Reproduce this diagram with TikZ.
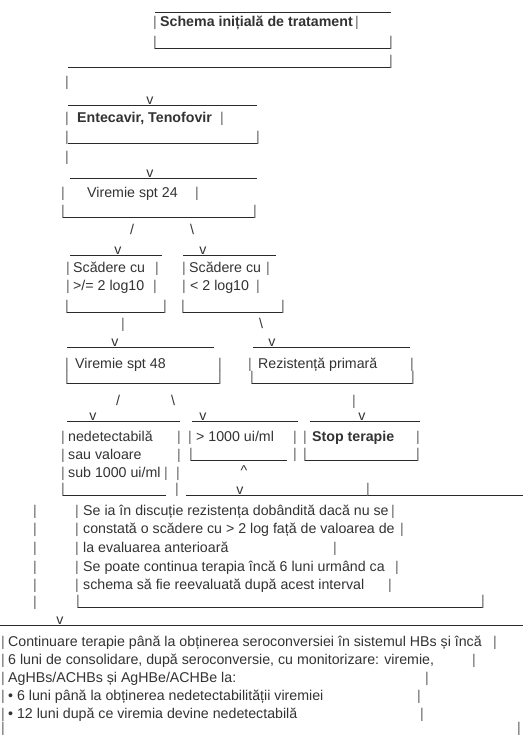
\documentclass[tikz,border=0pt]{standalone}
\usepackage{fontspec}
\setmainfont{Liberation Sans}
\definecolor{ink}{HTML}{333333}
\definecolor{pale}{HTML}{666666}
\definecolor{rulec}{HTML}{2A2A2A}
\tikzset{
  txt/.style={anchor=base west, inner sep=0pt, text=ink, font=\fontsize{14.2}{17}\selectfont},
  btxt/.style={txt, font=\fontsize{14.2}{17}\selectfont\bfseries},
  bar/.style={anchor=base, inner sep=0pt, text=pale, font=\fontsize{14.2}{17}\selectfont},
  tip/.style={bar, text=ink},
  hline/.style={draw=rulec, line width=0.9pt}
}
\begin{document}
\begin{tikzpicture}[x=1pt,y=-1pt]
\useasboundingbox[fill=white] (0,0) rectangle (523,736);
% Schema initiala
\draw[hline] (155,12) -- (391,12);
\node[bar] (sL) at (155,27) {|};
\node[btxt] (schema) at (160,27) {Schema inițială de tratament};
\node[bar] (sR) at (357,27) {|};
\node[bar] (sBL) at (155,46) {|};
\draw[hline] (155,48) -- (391,48);
\node[bar] (sBR) at (391,46) {|};
\draw[hline] (68,67) -- (391,67);
\node[bar] (sJ) at (391,65) {|};
\node[bar] (d1) at (67,86) {|};
% Entecavir
\draw[hline] (68,105) -- (257,105);
\node[tip] (v1) at (150,104) {v};
\node[bar] (eL) at (67,122) {|};
\node[btxt] (entec) at (77,122) {Entecavir, Tenofovir};
\node[bar] (eR) at (222,122) {|};
\node[bar] (eBL) at (67,141) {|};
\draw[hline] (68,143) -- (258,143);
\node[bar] (eBR) at (258,141) {|};
\node[bar] (d2) at (67,161) {|};
% Viremie 24
\draw[hline] (70,178) -- (257,178);
\node[tip] (v2) at (150,177) {v};
\node[bar] (wL) at (63,197) {|};
\node[txt] (vir24) at (87,197) {Viremie spt 24};
\node[bar] (wR) at (197,197) {|};
\node[bar] (wBL) at (63,215) {|};
\draw[hline] (63,217) -- (255,217);
\node[bar] (wBR) at (255,215) {|};
\node[tip] (sl1) at (132,234) {/};
\node[tip] (bs1) at (192,234) {\textbackslash};
% Scadere
\draw[hline] (70,255) -- (162,255);
\node[tip] (v3) at (118,254) {v};
\draw[hline] (183,255) -- (276,255);
\node[tip] (v4) at (203,254) {v};
\node[bar] (aL1) at (68,272) {|};
\node[txt] (scadA) at (73,272) {Scădere cu};
\node[bar] (aR1) at (157,272) {|};
\node[bar] (bL1) at (184,272) {|};
\node[txt] (scadB) at (189,272) {Scădere cu};
\node[bar] (bR1) at (268,272) {|};
\node[bar] (aL2) at (68,290) {|};
\node[txt] (logA) at (73,290) {>/= 2 log10};
\node[bar] (aR2) at (155,290) {|};
\node[bar] (bL2) at (184,290) {|};
\node[txt] (logB) at (190,290) {< 2 log10};
\node[bar] (bR2) at (258,290) {|};
\node[bar] (aBL) at (67,310) {|};
\draw[hline] (67,312) -- (165,312);
\node[bar] (aBR) at (165,310) {|};
\node[bar] (bBL) at (183,310) {|};
\draw[hline] (183,312) -- (283,312);
\node[bar] (bBR) at (283,310) {|};
\node[bar] (d3) at (123,328) {|};
\node[tip] (bs2) at (261,328) {\textbackslash};
% Viremie 48, Rezistenta
\draw[hline] (67,347) -- (214,347);
\node[tip] (v5) at (115,346) {v};
\draw[hline] (253,347) -- (410,347);
\node[tip] (v6) at (272,346) {v};
\node[bar] (xL) at (67,368) {|};
\node[txt] (vir48) at (75,368) {Viremie spt 48};
\node[bar] (xR) at (220,368) {|};
\node[bar] (rL) at (250,368) {|};
\node[txt] (rezist) at (258,368) {Rezistență primară};
\node[bar] (rR) at (412,368) {|};
\node[bar] (xBL) at (67,381) {|};
\draw[hline] (67,383) -- (220,383);
\node[bar] (xBR) at (220,381) {|};
\node[bar] (rBL) at (252,381) {|};
\draw[hline] (252,383) -- (413,383);
\node[bar] (rBR) at (413,381) {|};
\node[tip] (sl2) at (118,405) {/};
\node[tip] (bs3) at (173,405) {\textbackslash};
\node[bar] (d4) at (354,405) {|};
% nedetectabila, > 1000, Stop
\draw[hline] (67,421) -- (180,421);
\node[tip] (v7) at (93,420) {v};
\draw[hline] (192,421) -- (298,421);
\node[tip] (v8) at (203,420) {v};
\draw[hline] (310,421) -- (420,421);
\node[tip] (v9) at (362,420) {v};
\node[bar] (nL1) at (63,441) {|};
\node[txt] (nedet) at (68,441) {nedetectabilă};
\node[bar] (nR1) at (179,441) {|};
\node[bar] (mL) at (190,441) {|};
\node[txt] (peste) at (196,441) {> 1000 ui/ml};
\node[bar] (mR) at (295,441) {|};
\node[bar] (tL) at (305,441) {|};
\node[btxt] (stop) at (312,441) {Stop terapie};
\node[bar] (tR) at (418,441) {|};
\node[bar] (nL2) at (63,459) {|};
\node[txt] (sauval) at (68,459) {sau valoare};
\node[bar] (nR2) at (179,459) {|};
\node[bar] (mBL) at (191,458) {|};
\draw[hline] (191,460) -- (287,460);
\node[bar] (mBR) at (295,458) {|};
\node[bar] (tBL) at (305,458) {|};
\draw[hline] (305,460) -- (418,460);
\node[bar] (tBR) at (418,458) {|};
\node[bar] (nL3) at (63,477) {|};
\node[txt] (sub) at (68,477) {sub 1000 ui/ml};
\node[bar] (nR3) at (166,477) {|};
\node[bar] (nR4) at (178,477) {|};
\node[tip] (up) at (244,475) {\textasciicircum};
\node[bar] (nBL) at (63,493) {|};
\draw[hline] (63,495) -- (166,495);
\node[bar] (nBR) at (177,493) {|};
\draw[hline] (186,495) -- (368,495);
\node[tip] (v10) at (240,494) {v};
\node[bar] (kJ) at (368,493) {|};
\draw[hline] (368,495) -- (523,495);
% rezistenta dobandita
\node[bar] (l1) at (35,515) {|};
\node[bar] (l2) at (35,533) {|};
\node[bar] (l3) at (35,552) {|};
\node[bar] (l4) at (35,571) {|};
\node[bar] (l5) at (35,589) {|};
\node[bar] (l6) at (35,606) {|};
\node[bar] (kL1) at (77,515) {|};
\node[txt] (dob1) at (83,515) {Se ia în discuție rezistența dobândită dacă nu se};
\node[bar] (kR1) at (393,515) {|};
\node[bar] (kL2) at (77,533) {|};
\node[txt] (dob2) at (83,533) {constată o scădere cu > 2 log față de valoarea de};
\node[bar] (kR2) at (402,533) {|};
\node[bar] (kL3) at (77,552) {|};
\node[txt] (dob3) at (83,552) {la evaluarea anterioară};
\node[bar] (kR3) at (335,552) {|};
\node[bar] (kL4) at (77,571) {|};
\node[txt] (dob4) at (83,571) {Se poate continua terapia încă 6 luni urmând ca};
\node[bar] (kR4) at (397,571) {|};
\node[bar] (kL5) at (77,589) {|};
\node[txt] (dob5) at (83,589) {schema să fie reevaluată după acest interval};
\node[bar] (kR5) at (390,589) {|};
\node[bar] (kBL) at (78,605) {|};
\draw[hline] (78,607) -- (483,607);
\node[bar] (kBR) at (483,605) {|};
% continuare terapie
\draw[hline] (0,625) -- (523,625);
\node[tip] (v11) at (60,624) {v};
\node[bar] (cL1) at (3,646) {|};
\node[txt] (cont1) at (8,646) {Continuare terapie până la obținerea seroconversiei în sistemul HBs și încă};
\node[bar] (cR1) at (495,646) {|};
\node[bar] (cL2) at (3,664) {|};
\node[txt] (cont2) at (8,664) {6 luni de consolidare, după seroconversie, cu monitorizare: viremie,};
\node[bar] (cR2) at (474,664) {|};
\node[bar] (cL3) at (3,682) {|};
\node[txt] (cont3) at (8,682) {AgHBs/ACHBs și AgHBe/ACHBe la:};
\node[bar] (cR3) at (427,682) {|};
\node[bar] (cL4) at (3,700) {|};
\node[txt] (cont4) at (8,700) {• 6 luni până la obținerea nedetectabilității viremiei};
\node[bar] (cR4) at (419,700) {|};
\node[bar] (cL5) at (3,718) {|};
\node[txt] (cont5) at (8,718) {• 12 luni după ce viremia devine nedetectabilă};
\node[bar] (cR5) at (422,718) {|};
\node[bar] (cL6) at (3,732.8) {|};
\node[bar] (cR6) at (519,732.8) {|};
\end{tikzpicture}
\end{document}
